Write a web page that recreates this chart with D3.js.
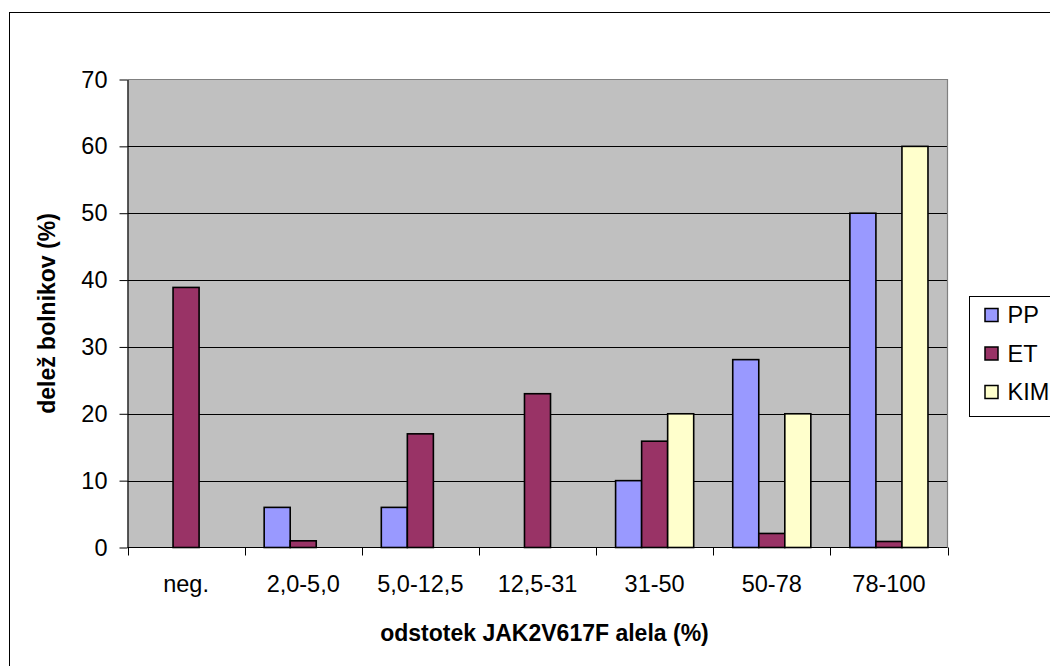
<!DOCTYPE html>
<html>
<head>
<meta charset="utf-8">
<script src="https://cdn.jsdelivr.net/npm/d3@7"></script>
<style>
  html, body { margin: 0; padding: 0; background: #fff; }
  svg { display: block; font-family: "Liberation Sans", Arial, sans-serif; }
</style>
</head>
<body>
<svg id="chart" width="1050" height="666"></svg>
<script>
// Share of patients per JAK2V617F allele burden class
const categories = ["neg.", "2,0-5,0", "5,0-12,5", "12,5-31", "31-50", "50-78", "78-100"];
const seriesNames = ["PP", "ET", "KIM"];
const ppValues  = [0, 6, 6, 0, 10, 28.1, 50];
const etValues  = [38.9, 1, 17, 23, 15.9, 2.1, 0.9];
const kimValues = [0, 0, 0, 0, 20, 20, 60];
const yTicks = [0, 10, 20, 30, 40, 50, 60, 70];
const colors = ["#9999FF", "#993366", "#FFFFCC"];

const seriesValues = [ppValues, etValues, kimValues];

const svg = d3.select("#chart");
const W = 1050, H = 666;
const plot = { left: 127.5, right: 947.5, top: 79.5, bottom: 547.5 };

// outer chart frame (continues past the bottom/right of the canvas)
svg.append("rect")
  .attr("x", 9.5).attr("y", 12.5)
  .attr("width", W + 20).attr("height", H + 20)
  .attr("fill", "#fff").attr("stroke", "#000").attr("stroke-width", 1);

const x = d3.scaleBand().domain(categories).range([plot.left, plot.right]).padding(0);
const y = d3.scaleLinear().domain([0, 70]).range([plot.bottom, plot.top]);

// three bars per group, gap of 1.5 bar widths between groups
const barW = x.bandwidth() / (seriesNames.length + 1.5);
const xs = d3.scaleBand().domain(seriesNames)
  .range([barW * 0.75, barW * 0.75 + barW * seriesNames.length]).padding(0);

// plot area background
svg.append("rect")
  .attr("x", plot.left).attr("y", plot.top)
  .attr("width", plot.right - plot.left).attr("height", plot.bottom - plot.top)
  .attr("fill", "#C0C0C0");

// gridlines
svg.append("g").selectAll("line")
  .data(yTicks.filter(t => t > 0 && t < 70))
  .join("line")
  .attr("x1", plot.left).attr("x2", plot.right)
  .attr("y1", d => Math.round(y(d)) + 0.5).attr("y2", d => Math.round(y(d)) + 0.5)
  .attr("stroke", "#000").attr("stroke-width", 1);

// plot area top and right border
svg.append("path")
  .attr("d", `M${plot.left},${plot.top}H${plot.right}V${plot.bottom}`)
  .attr("fill", "none").attr("stroke", "#808080").attr("stroke-width", 1.2);

// bars
const rows = [];
categories.forEach((c, i) => {
  seriesNames.forEach((s, j) => {
    const v = seriesValues[j][i];
    if (v > 0) rows.push({ cat: c, series: s, value: v, color: colors[j] });
  });
});
svg.append("g").selectAll("rect")
  .data(rows)
  .join("rect")
  .attr("x", d => x(d.cat) + xs(d.series))
  .attr("y", d => y(d.value))
  .attr("width", xs.bandwidth())
  .attr("height", d => y(0) - y(d.value))
  .attr("fill", d => d.color)
  .attr("stroke", "#000").attr("stroke-width", 1.6);

// y axis
const yAxis = d3.axisLeft(y).tickValues(yTicks).tickSize(8).tickPadding(12).tickSizeOuter(0);
const gy = svg.append("g").attr("transform", `translate(${plot.left},0)`).call(yAxis);
gy.select(".domain").attr("stroke", "#000").attr("stroke-width", 1.2);
gy.selectAll(".tick line").attr("stroke", "#000");
gy.selectAll(".tick text")
  .attr("font-size", 23.5).attr("fill", "#000")
  .attr("font-family", "'Liberation Sans', Arial, sans-serif");

// x axis: ticks at category boundaries
const gx = svg.append("g").attr("transform", `translate(0,${plot.bottom})`);
gx.append("line")
  .attr("x1", plot.left).attr("x2", plot.right)
  .attr("stroke", "#000").attr("stroke-width", 1.2);
const bounds = categories.map(c => x(c)).concat([x(categories[categories.length - 1]) + x.bandwidth()]);
gx.selectAll("line.tick")
  .data(bounds)
  .join("line").attr("class", "tick")
  .attr("x1", d => Math.round(d) + 0.5).attr("x2", d => Math.round(d) + 0.5)
  .attr("y1", 0).attr("y2", 8)
  .attr("stroke", "#000");
gx.selectAll("text")
  .data(categories)
  .join("text")
  .attr("x", d => x(d) + x.bandwidth() / 2)
  .attr("y", 44)
  .attr("text-anchor", "middle")
  .attr("font-size", 23.5)
  .attr("fill", "#000")
  .text(d => d);

// axis titles
svg.append("text")
  .attr("x", (plot.left + plot.right) / 2 + 7)
  .attr("y", 641)
  .attr("text-anchor", "middle")
  .attr("font-size", 23).attr("font-weight", "bold")
  .text("odstotek JAK2V617F alela (%)");

svg.append("text")
  .attr("transform", `translate(55,${(plot.top + plot.bottom) / 2}) rotate(-90)`)
  .attr("text-anchor", "middle")
  .attr("font-size", 23).attr("font-weight", "bold")
  .text("delež bolnikov (%)");

// legend
const lg = svg.append("g").attr("transform", "translate(969.5,296.5)");
lg.append("rect")
  .attr("width", 100).attr("height", 120)
  .attr("fill", "#fff").attr("stroke", "#000").attr("stroke-width", 1);
const items = lg.selectAll("g.item")
  .data(seriesNames)
  .join("g").attr("class", "item")
  .attr("transform", (d, i) => `translate(0,${18.5 + i * 38.5})`);
items.append("rect")
  .attr("x", 15.5).attr("y", -6.5)
  .attr("width", 13).attr("height", 13)
  .attr("fill", (d, i) => colors[i])
  .attr("stroke", "#000").attr("stroke-width", 1.5);
items.append("text")
  .attr("x", 38).attr("y", 8)
  .attr("font-size", 23.5)
  .attr("fill", "#000")
  .text(d => d);
</script>
</body>
</html>
